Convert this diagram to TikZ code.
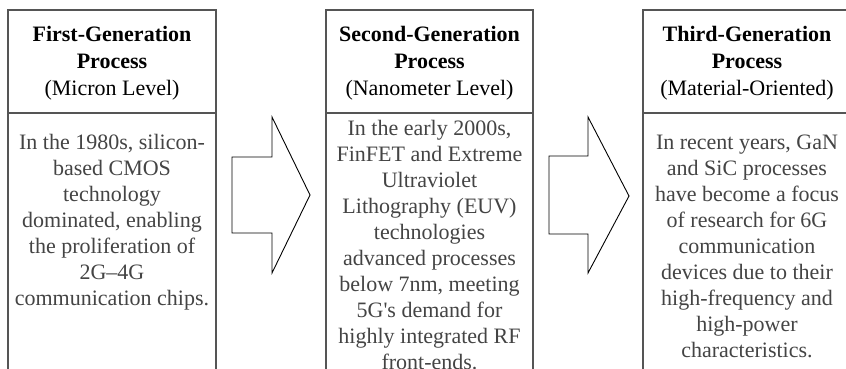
\documentclass[tikz,border=0pt]{standalone}
\usepackage{fontspec}
\setmainfont{Liberation Serif}
\definecolor{boxgray}{HTML}{555555}
\definecolor{textgray}{HTML}{444444}
\begin{document}
\begin{tikzpicture}[x=1pt,y=-1pt,
  frame/.style={draw=boxgray, line width=1.5pt},
  ttl/.style={align=center, font=\fontsize{22}{27}\selectfont, text=black, inner sep=0pt},
  bdy/.style={align=center, font=\fontsize{22}{26}\selectfont, text=textgray, inner sep=0pt},
  blockarrow/.style={draw=black, line width=0.9pt, fill=white, line join=miter}]
\useasboundingbox (0,0) rectangle (846,369);
\fill[white] (0,0) rectangle (846,369);
% column frames
\draw[frame] (8,380) -- (8,10) -- (216,10) -- (216,380);
\draw[frame] (8,113) -- (216,113);
\draw[frame] (326,380) -- (326,10) -- (533,10) -- (533,380);
\draw[frame] (326,113) -- (533,113);
\draw[frame] (643,380) -- (643,10) -- (851,10) -- (851,380);
\draw[frame] (643,113) -- (851,113);
% titles
\node[ttl] (t1) at (112,63) {\textbf{First-Generation}\\\textbf{Process}\\(Micron Level)};
\node[ttl] (t2) at (429.5,63) {\textbf{Second-Generation}\\\textbf{Process}\\(Nanometer Level)};
\node[ttl] (t3) at (747,63) {\textbf{Third-Generation}\\\textbf{Process}\\(Material-Oriented)};
% bodies
\node[bdy] (b1) at (112,222) {In the 1980s, silicon-\\based CMOS\\technology\\dominated, enabling\\the proliferation of\\2G–4G\\communication chips.};
\node[bdy] (b2) at (429.5,245) {In the early 2000s,\\FinFET and Extreme\\Ultraviolet\\Lithography (EUV)\\technologies\\advanced processes\\below 7nm, meeting\\5G\textquotesingle s demand for\\highly integrated RF\\front-ends.};
\node[bdy] (b3) at (747,246) {In recent years, GaN\\and SiC processes\\have become a focus\\of research for 6G\\communication\\devices due to their\\high-frequency and\\high-power\\characteristics.};
% block arrows
\draw[blockarrow] (232,157) -- (272,157) -- (272,117) -- (310,195) -- (272,273) -- (272,233) -- (232,233) -- cycle;
\draw[blockarrow] (549,156) -- (588,156) -- (588,117) -- (629,196) -- (588,273) -- (588,234) -- (549,234) -- cycle;
\end{tikzpicture}
\end{document}
